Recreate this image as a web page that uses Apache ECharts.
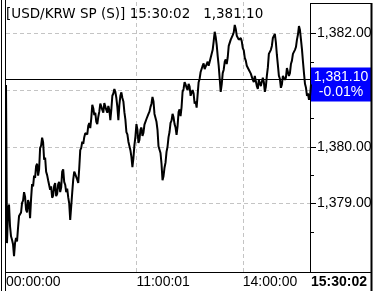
<!DOCTYPE html>
<html><head><meta charset="utf-8">
<script src="https://cdn.jsdelivr.net/npm/echarts@6/dist/echarts.min.js"></script>
<style>html,body{margin:0;padding:0;background:#fff}#c{width:375px;height:291px}</style>
</head><body><div id="c"></div>
<script>
// ---- data ----
const symbolName = '[USD/KRW SP (S)]';
const lastTime = '15:30:02';
const prevClose = 1381.20;
const lastPrice = 1381.10;
const changePct = '-0.01%';
const tickIndex = [0, 130, 236, 304];
const tickLabels = ['00:00:00', '11:00:01', '14:00:00', '15:30:02'];
const xGridIndex = [130, 236];
const yLabelValues = [1379, 1380, 1382];
const yGridValues = [1379, 1380, 1381, 1382];
const yMinorValues = [1378.5, 1379.5, 1380.5, 1381.5];
const prices = [
  1381.09, 1378.30, 1378.85, 1378.98, 1378.60, 1378.42, 1378.36, 1378.28, 1378.07, 1378.30,
  1378.39, 1378.33, 1378.57, 1378.78, 1378.81, 1378.84, 1379.01, 1379.05, 1379.20, 1379.12,
  1378.89, 1378.84, 1379.06, 1379.00, 1378.74, 1379.08, 1379.34, 1379.30, 1379.49, 1379.45,
  1379.66, 1379.70, 1379.49, 1379.60, 1379.98, 1380.02, 1380.16, 1380.08, 1379.77, 1379.81,
  1379.56, 1379.50, 1379.41, 1379.43, 1379.24, 1379.30, 1379.10, 1379.14, 1379.31, 1379.36,
  1379.13, 1379.17, 1379.34, 1379.38, 1379.20, 1379.28, 1379.56, 1379.60, 1379.38, 1379.33,
  1379.20, 1379.26, 1379.11, 1379.00, 1378.71, 1378.95, 1379.19, 1379.42, 1379.56, 1379.52,
  1379.47, 1379.42, 1379.36, 1379.62, 1379.94, 1379.98, 1380.09, 1380.05, 1380.17, 1380.24,
  1380.26, 1380.22, 1380.37, 1380.42, 1380.33, 1380.50, 1380.74, 1380.68, 1380.56, 1380.60,
  1380.44, 1380.40, 1380.53, 1380.62, 1380.76, 1380.71, 1380.65, 1380.60, 1380.77, 1380.80,
  1380.65, 1380.60, 1380.72, 1380.65, 1380.47, 1380.66, 1380.90, 1380.94, 1381.02, 1380.97,
  1380.86, 1380.70, 1380.47, 1380.74, 1380.90, 1380.96, 1380.86, 1380.80, 1380.61, 1380.48,
  1380.26, 1380.22, 1380.09, 1380.06, 1379.94, 1379.82, 1379.64, 1379.80, 1380.03, 1380.18,
  1380.40, 1380.30, 1380.07, 1380.12, 1380.30, 1380.34, 1380.19, 1380.25, 1380.39, 1380.36,
  1380.49, 1380.46, 1380.58, 1380.62, 1380.70, 1380.76, 1380.88, 1380.80, 1380.58, 1380.56,
  1380.44, 1380.30, 1380.01, 1380.04, 1379.89, 1379.70, 1379.41, 1379.48, 1379.63, 1379.72,
  1379.91, 1380.00, 1380.17, 1380.26, 1380.42, 1380.46, 1380.58, 1380.52, 1380.40, 1380.34,
  1380.21, 1380.36, 1380.61, 1380.66, 1380.54, 1380.70, 1380.97, 1381.02, 1381.14, 1381.10,
  1381.04, 1381.00, 1381.11, 1381.06, 1380.90, 1380.88, 1381.00, 1380.94, 1380.76, 1380.80,
  1380.69, 1380.92, 1381.14, 1381.20, 1381.32, 1381.34, 1381.43, 1381.47, 1381.37, 1381.35,
  1381.46, 1381.50, 1381.43, 1381.46, 1381.57, 1381.60, 1381.71, 1381.86, 1382.03, 1381.94,
  1381.80, 1381.60, 1381.43, 1381.20, 1380.97, 1381.10, 1381.30, 1381.36, 1381.50, 1381.54,
  1381.46, 1381.58, 1381.78, 1381.80, 1381.89, 1381.90, 1381.97, 1382.02, 1382.15, 1382.08,
  1381.96, 1381.98, 1381.89, 1381.86, 1381.92, 1381.86, 1381.74, 1381.70, 1381.57, 1381.52,
  1381.43, 1381.46, 1381.36, 1381.38, 1381.29, 1381.28, 1381.18, 1381.14, 1381.25, 1381.22,
  1381.07, 1381.02, 1381.18, 1381.20, 1381.07, 1381.04, 1381.22, 1381.14, 1380.97, 1381.06,
  1381.25, 1381.40, 1381.64, 1381.62, 1381.71, 1381.78, 1381.92, 1381.94, 1381.99, 1381.84,
  1381.62, 1381.44, 1381.25, 1381.20, 1381.04, 1381.10, 1381.25, 1381.28, 1381.18, 1381.22,
  1381.39, 1381.36, 1381.25, 1381.30, 1381.46, 1381.52, 1381.64, 1381.62, 1381.71, 1381.76,
  1381.89, 1381.98, 1382.13, 1382.06, 1381.89, 1381.72, 1381.50, 1381.30, 1381.11, 1381.04,
  1380.90, 1380.94, 1380.83, 1380.88, 1381.10
];
const categories = prices.map((_, i) => i);

// ---- chart ----
const FONT = '"Liberation Sans", Arial, sans-serif';
const HFONT = '"DejaVu Sans", sans-serif';
const fmt = v => Number(v).toLocaleString('en-US', {minimumFractionDigits: 2, maximumFractionDigits: 2});
const chart = echarts.init(document.getElementById('c'), null, {renderer: 'canvas'});

const gridLineStyle = {color: '#c4c4c4', type: [4, 3], width: 1};
const markData = [];
yGridValues.forEach(v => markData.push({yAxis: v, lineStyle: gridLineStyle}));
xGridIndex.forEach(i => markData.push({xAxis: i, lineStyle: gridLineStyle}));
markData.push({yAxis: prevClose, lineStyle: {color: '#000', width: 1, type: 'solid'}});
markData.push({
  yAxis: lastPrice,
  lineStyle: {color: 'rgba(0,0,0,0)', width: 0},
  label: {
    show: true, position: 'end', distance: 0,
    formatter: '{c|' + fmt(lastPrice) + '}\n{c|' + changePct + '}',
    backgroundColor: '#0000ff', color: '#fff',
    fontFamily: FONT, fontSize: 14, lineHeight: 15,
    width: 58, align: 'left', verticalAlign: 'middle', padding: [2, 1, 2, 1],
    rich: {c: {align: 'center', color: '#fff', fontFamily: FONT, fontSize: 14, lineHeight: 15}}
  }
});

chart.setOption({
  animation: false,
  backgroundColor: '#fff',
  title: {
    text: symbolName + ' ' + lastTime + '   ' + fmt(lastPrice),
    left: 6, top: 7, padding: 0,
    textStyle: {fontFamily: HFONT, fontSize: 13.5, fontWeight: 'normal', color: '#000'}
  },
  grid: {left: 6, right: 64, top: 0, bottom: 19, containLabel: false},
  xAxis: {
    type: 'category', data: categories, boundaryGap: false,
    axisLine: {show: false}, axisTick: {show: false}, splitLine: {show: false},
    axisLabel: {
      interval: (idx) => tickIndex.includes(idx),
      formatter: (val, idx) => {
        const k = tickIndex.indexOf(idx);
        if (k < 0) return '';
        return k === tickIndex.length - 1 ? '{b|' + tickLabels[k] + '}' : tickLabels[k];
      },
      align: 'left', margin: 3, color: '#000', fontFamily: FONT, fontSize: 14,
      rich: {b: {fontWeight: 'bold', fontFamily: FONT, fontSize: 14, color: '#000'}}
    }
  },
  yAxis: [{
    type: 'value', position: 'right', min: 1377.79, max: 1382.59,
    axisLine: {show: false}, splitLine: {show: false},
    axisTick: {show: true, customValues: yGridValues, length: 5, lineStyle: {color: '#000'}},
    axisLabel: {customValues: yLabelValues, margin: 6, formatter: v => fmt(v), color: '#000', fontFamily: FONT, fontSize: 14}
  }, {
    type: 'value', position: 'right', min: 1377.79, max: 1382.59,
    axisLine: {show: false}, splitLine: {show: false},
    axisTick: {show: true, customValues: yMinorValues, length: 3, lineStyle: {color: '#000'}},
    axisLabel: {show: false}
  }],
  series: [{
    type: 'line', data: prices, yAxisIndex: 0,
    showSymbol: false, symbol: 'none',
    lineStyle: {color: '#000', width: 2},
    z: 3,
    markLine: {silent: true, symbol: 'none', label: {show: false}, data: markData, z: 2}
  }],
  graphic: [
    {type: 'rect', z: 100, shape: {x: 372, y: 0, width: 3, height: 291}, style: {fill: '#fff'}},
    {type: 'line', z: 101, shape: {x1: 1.5, y1: 0, x2: 1.5, y2: 291}, style: {stroke: '#000', lineWidth: 1}},
    {type: 'line', z: 101, shape: {x1: 5.5, y1: 0, x2: 5.5, y2: 291}, style: {stroke: '#000', lineWidth: 1}},
    {type: 'line', z: 101, shape: {x1: 310.5, y1: 3, x2: 310.5, y2: 272}, style: {stroke: '#000', lineWidth: 1}},
    {type: 'line', z: 101, shape: {x1: 371.5, y1: 3, x2: 371.5, y2: 291}, style: {stroke: '#000', lineWidth: 2}},
    {type: 'line', z: 101, shape: {x1: 310, y1: 3.5, x2: 372, y2: 3.5}, style: {stroke: '#000', lineWidth: 1}},
    {type: 'line', z: 101, shape: {x1: 5, y1: 272.5, x2: 372, y2: 272.5}, style: {stroke: '#000', lineWidth: 1}}
  ]
});
</script>
</body></html>
